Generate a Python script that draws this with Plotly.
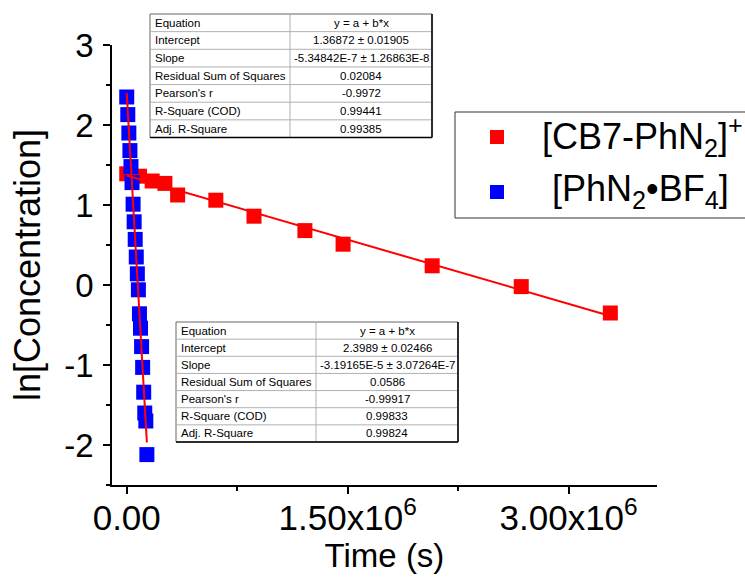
import plotly.graph_objects as go

# ---------------- data ----------------
red_t = [0, 86400, 172800, 259200, 345600, 604800, 864000, 1209600,
         1468800, 2073600, 2678400, 3283200]
red_y = [1.39, 1.36, 1.30, 1.27, 1.125, 1.06, 0.86, 0.68, 0.51, 0.24, -0.02, -0.35]

blue_t = [0, 7200, 14400, 21600, 28800, 36000, 43200, 50400, 57600, 64800,
          72000, 79200, 86400, 93600, 100800, 108000, 115200, 122400, 129600, 136800]
blue_y = [2.35, 2.13, 1.90, 1.68, 1.48, 1.28, 1.01, 0.79, 0.57, 0.35,
          0.14, -0.06, -0.36, -0.54, -0.77, -1.03, -1.34, -1.60, -1.70, -2.12]

red_intercept, red_slope = 1.36872, -5.34842e-7
blue_intercept, blue_slope = 2.3989, -3.19165e-5
red_fit_t = [0, 3283200]
blue_fit_t = [0, 136800]

series_names = ["[CB7-PhN<sub>2</sub>]<sup>+</sup>", "[PhN<sub>2</sub>•BF<sub>4</sub>]"]
series_colors = ["#ff0000", "#0000ff"]

x_tickvals = [0, 1.5e6, 3.0e6]
x_ticktext = ["0.00", "1.50x10<sup>6</sup>", "3.00x10<sup>6</sup>"]
y_tickvals = [-2, -1, 0, 1, 2, 3]
y_ticktext = ["-2", "-1", "0", "1", "2", "3"]

table_labels = ["Equation", "Intercept", "Slope", "Residual Sum of Squares",
                "Pearson's r", "R-Square (COD)", "Adj. R-Square"]
red_table_values = ["y = a + b*x", "1.36872 ± 0.01905", "-5.34842E-7 ± 1.26863E-8",
                    "0.02084", "-0.9972", "0.99441", "0.99385"]
blue_table_values = ["y = a + b*x", "2.3989 ± 0.02466", "-3.19165E-5 ± 3.07264E-7",
                     "0.0586", "-0.99917", "0.99833", "0.99824"]

# ---------------- layout helpers (pixel -> paper) ----------------
W, H = 745, 581
L, R, T, B = 112, 657, 45, 485
PW, PH = R - L, B - T


def px(x):
    return (x - L) / PW


def py(y):
    return (B - y) / PH


FONT = "Liberation Sans, Arial, sans-serif"

fig = go.Figure()

fig.add_trace(go.Scatter(
    x=red_t, y=red_y, mode="markers", name=series_names[0], showlegend=False,
    marker=dict(symbol="square", size=15, color=series_colors[0], line=dict(width=0)),
))
fig.add_trace(go.Scatter(
    x=blue_t, y=blue_y, mode="markers", name=series_names[1], showlegend=False,
    marker=dict(symbol="square", size=15, color=series_colors[1], line=dict(width=0)),
))
fig.add_trace(go.Scatter(
    x=red_fit_t, y=[red_intercept + red_slope * t for t in red_fit_t],
    mode="lines", line=dict(color="#ff0000", width=2), showlegend=False, hoverinfo="skip",
))
fig.add_trace(go.Scatter(
    x=blue_fit_t, y=[blue_intercept + blue_slope * t for t in blue_fit_t],
    mode="lines", line=dict(color="#ff0000", width=2), showlegend=False, hoverinfo="skip",
))

shapes = []
annotations = []


def add_table(left, right, div, top, bottom, labels, values):
    n = len(labels)
    rh = (bottom - top) / n
    shapes.append(dict(type="rect", xref="paper", yref="paper",
                       x0=px(left), x1=px(right), y0=py(bottom), y1=py(top),
                       fillcolor="white", line=dict(color="#666666", width=1), layer="above"))
    for i in range(1, n):
        yy = top + i * rh
        shapes.append(dict(type="line", xref="paper", yref="paper",
                           x0=px(left), x1=px(right), y0=py(yy), y1=py(yy),
                           line=dict(color="#b0b0b0", width=1), layer="above"))
    shapes.append(dict(type="line", xref="paper", yref="paper",
                       x0=px(div), x1=px(div), y0=py(bottom), y1=py(top),
                       line=dict(color="#b0b0b0", width=1), layer="above"))
    shapes.append(dict(type="line", xref="paper", yref="paper",
                       x0=px(right), x1=px(right), y0=py(bottom), y1=py(top),
                       line=dict(color="#000000", width=1.5), layer="above"))
    shapes.append(dict(type="line", xref="paper", yref="paper",
                       x0=px(left), x1=px(right), y0=py(bottom), y1=py(bottom),
                       line=dict(color="#000000", width=1.5), layer="above"))
    for i in range(n):
        yc = top + (i + 0.5) * rh
        annotations.append(dict(xref="paper", yref="paper", x=px(left + 3), y=py(yc),
                                text=labels[i], showarrow=False, xanchor="left", yanchor="middle",
                                font=dict(family=FONT, size=11.5, color="#000")))
        annotations.append(dict(xref="paper", yref="paper", x=px((div + right) / 2), y=py(yc),
                                text=values[i], showarrow=False, xanchor="center", yanchor="middle",
                                font=dict(family=FONT, size=11.5, color="#000")))


add_table(150, 432, 290, 14, 137.5, table_labels, red_table_values)
add_table(176, 458, 316, 322, 442, table_labels, blue_table_values)

# ---------------- legend box (drawn by hand for exact placement) ----------------
shapes.append(dict(type="rect", xref="paper", yref="paper",
                   x0=px(455), x1=px(765), y0=py(218), y1=py(112),
                   fillcolor="white", line=dict(color="#333333", width=1), layer="above"))
legend_rows = [137, 192]
legend_text_x = [540, 550]
for name, color, yc, tx in zip(series_names, series_colors, legend_rows, legend_text_x):
    shapes.append(dict(type="rect", xref="paper", yref="paper",
                       x0=px(490), x1=px(504), y0=py(yc + 7), y1=py(yc - 7),
                       fillcolor=color, line=dict(width=0), layer="above"))
    annotations.append(dict(xref="paper", yref="paper", x=px(tx), y=py(yc - 1),
                            text=name, showarrow=False, xanchor="left", yanchor="middle",
                            font=dict(family=FONT, size=36, color="#000")))

axis_common = dict(
    showline=True, linecolor="#000", linewidth=1.5,
    ticks="outside", ticklen=7, tickwidth=1.5, tickcolor="#000",
    showgrid=False, zeroline=False, mirror=False,
)

fig.update_layout(
    width=W, height=H,
    margin=dict(l=L, r=W - R, t=T, b=H - B, autoexpand=False),
    paper_bgcolor="white", plot_bgcolor="white",
    font=dict(family=FONT, color="#000"),
    showlegend=False,
    xaxis=dict(
        range=[-1.0e5, 3.6e6], tickmode="array", tickvals=x_tickvals, ticktext=x_ticktext,
        minor=dict(tickmode="array", tickvals=[7.5e5, 2.25e6], ticklen=4, tickwidth=1.5,
                   tickcolor="#000", ticks="outside"),
        tickfont=dict(family=FONT, size=35, color="#000"),
        title=dict(text="Time (s)", font=dict(family=FONT, size=33, color="#000"), standoff=8),
        ticklabelstandoff=-6,
        **axis_common,
    ),
    yaxis=dict(
        range=[-2.5, 3.0], tickmode="array", tickvals=y_tickvals, ticktext=y_ticktext,
        minor=dict(tickmode="array", tickvals=[-2.5, -1.5, -0.5, 0.5, 1.5, 2.5], ticklen=4,
                   tickwidth=1.5, tickcolor="#000", ticks="outside"),
        tickfont=dict(family=FONT, size=33, color="#000"),
        title=dict(text="ln[Concentration]", font=dict(family=FONT, size=36, color="#000"), standoff=13),
        ticklabelstandoff=3,
        **axis_common,
    ),
    shapes=shapes,
    annotations=annotations,
)

fig.write_html("out.html")
